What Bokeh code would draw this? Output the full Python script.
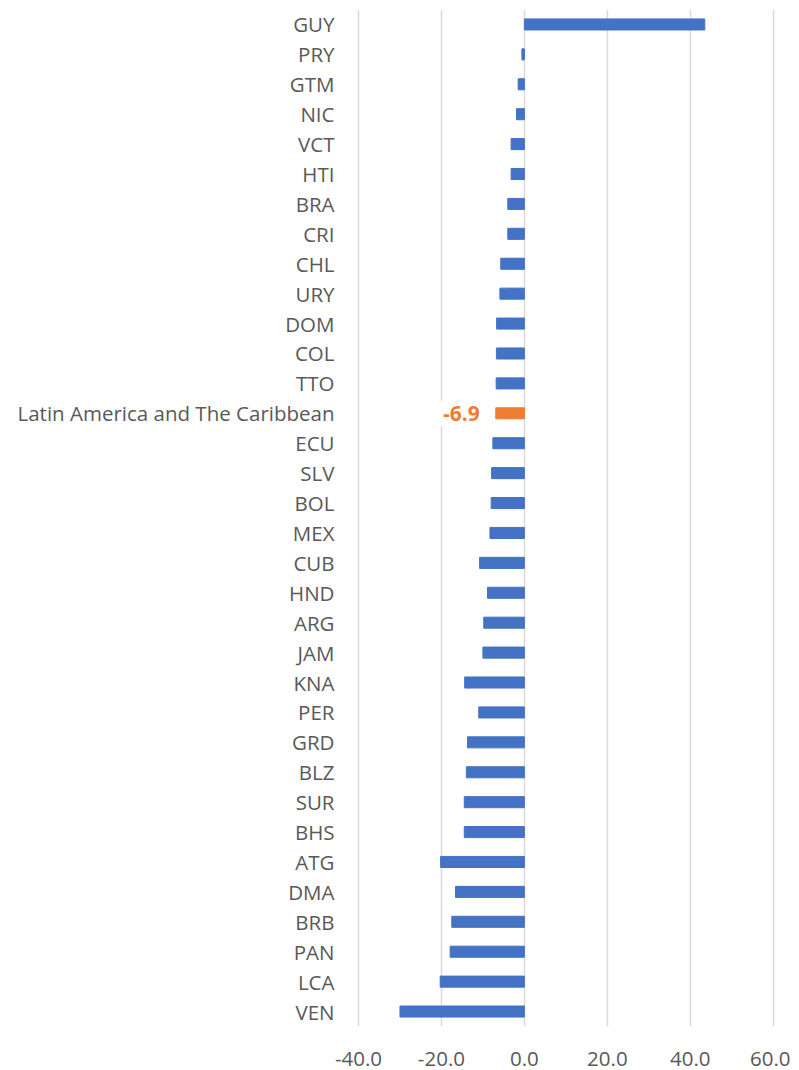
from bokeh.plotting import figure
from bokeh.models import Range1d, FactorRange, NumeralTickFormatter, FixedTicker, ColumnDataSource
from bokeh.core.properties import value
from bokeh.embed import file_html
from bokeh.resources import INLINE

countries = ["GUY", "PRY", "GTM", "NIC", "VCT", "HTI", "BRA", "CRI", "CHL", "URY", "DOM", "COL", "TTO",
             "Latin America and The Caribbean", "ECU", "SLV", "BOL", "MEX", "CUB", "HND", "ARG", "JAM",
             "KNA", "PER", "GRD", "BLZ", "SUR", "BHS", "ATG", "DMA", "BRB", "PAN", "LCA", "VEN"]
values = [43.5, -0.6, -1.5, -1.9, -3.2, -3.2, -4.0, -4.0, -5.7, -5.9, -6.7, -6.75, -6.8,
          -6.9, -7.6, -7.9, -8.0, -8.3, -10.8, -8.9, -9.8, -10.0,
          -14.4, -11.0, -13.7, -14.0, -14.5, -14.5, -20.2, -16.6, -17.5, -17.9, -20.3, -30.0]
highlight = "Latin America and The Caribbean"
x_ticks = [-40, -20, 0, 20, 40, 60]

BLUE = "#4472C4"
ORANGE = "#ED7D31"
colors = [ORANGE if c == highlight else BLUE for c in countries]

src = ColumnDataSource(dict(cat=countries, val=values, zero=[0] * len(values), color=colors))

p = figure(width=790, height=1070, output_backend="svg", toolbar_location=None,
           y_range=FactorRange(*list(reversed(countries))),
           x_range=Range1d(-41.93, 61.76),
           min_border_left=350, min_border_right=10, min_border_top=9, min_border_bottom=44)
p.hbar(y="cat", left="zero", right="val", height=0.37, color="color", source=src)

p.outline_line_color = None
p.ygrid.grid_line_color = None
p.xgrid.grid_line_color = "#d9d9d9"
p.xgrid.grid_line_width = 1.5
p.xaxis.ticker = FixedTicker(ticks=x_ticks)
p.xaxis.formatter = NumeralTickFormatter(format="0.0")
for ax in (p.xaxis, p.yaxis):
    ax.axis_line_color = None
    ax.major_tick_line_color = None
    ax.minor_tick_line_color = None
    ax.major_label_text_color = "#595959"
    ax.major_label_text_font = "Open Sans"
    ax.major_label_text_font_size = "20.5px"
p.yaxis.major_label_standoff = 10
p.xaxis.major_label_standoff = 19

lab_val = values[countries.index(highlight)]
lab_src = ColumnDataSource(dict(x=[lab_val], y=[highlight], t=[f"{lab_val:.1f}"]))
p.text(x="x", y="y", text="t", source=lab_src, x_offset=-11,
       text_align="right", text_baseline="middle", text_color=ORANGE,
       text_font=value("Open Sans"), text_font_style="bold", text_font_size="21px",
       background_fill_color="white", padding=5)

open("out.html", "w").write(file_html(p, INLINE))
